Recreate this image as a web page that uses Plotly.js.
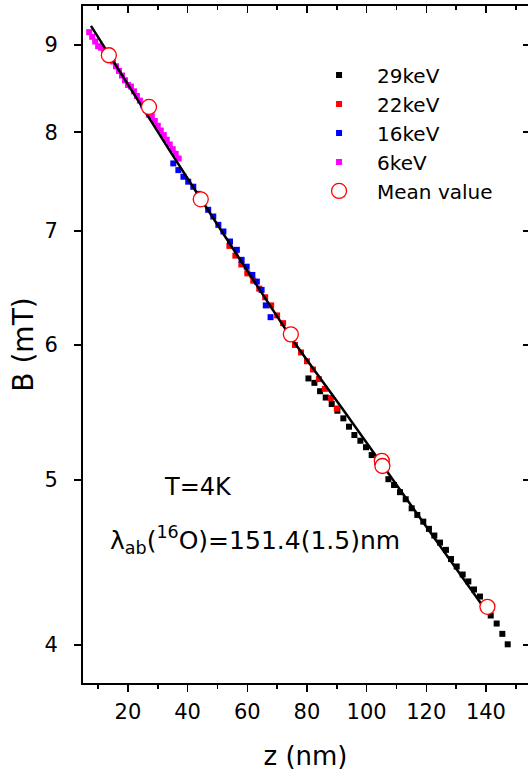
<!DOCTYPE html>
<html>
<head>
<meta charset="utf-8">
<script src="https://cdn.plot.ly/plotly-3.0.1.min.js"></script>
<style>
html,body{margin:0;padding:0;overflow:hidden;background:#fff;}
#chart{width:530px;height:776px;}
</style>
</head>
<body>
<div id="chart"></div>
<script>
// 29 keV
var z29 = [80.5,82.5,84.4,86.3,88.3,90.2,92.2,94.1,95.9,97.9,99.8,101.7,103.6,105.5,107.3,109.2,111.2,113.1,115.1,117.0,119.0,120.9,122.7,124.6,126.6,128.3,130.2,132.2,134.1,136.0,138.0,139.8,141.6,143.6,145.5,147.3];
var B29 = [5.735,5.701,5.637,5.589,5.54,5.49,5.434,5.373,5.313,5.272,5.226,5.171,5.12,5.07,5.005,4.966,4.918,4.871,4.812,4.769,4.726,4.680,4.638,4.594,4.549,4.493,4.448,4.400,4.359,4.312,4.271,4.215,4.163,4.118,4.061,4.004];
// 22 keV
var z22 = [54,56,58,60,62,64,66,68,70,72,74,76,78,80,82,84,86,88,90];
var B22 = [6.86,6.77,6.69,6.61,6.545,6.475,6.40,6.33,6.245,6.18,6.10,6.00,5.94,5.87,5.805,5.73,5.655,5.585,5.507];
// 16 keV
var z16 = [35.2,36.9,38.6,40.2,41.9,43.6,45.2,46.9,48.6,50.3,52.0,54.2,56.5,58.1,59.8,61.7,63.2,64.8,66.2,67.8];
var B16 = [7.669,7.600,7.532,7.482,7.431,7.36,7.28,7.203,7.138,7.058,6.995,6.901,6.824,6.732,6.670,6.596,6.537,6.464,6.33,6.23];
// 6 keV
var z6 = [7,8,9,10,11,12,13,14,15,16,17,18,19,20,21,22,23,24,25,26,27,28,29,30,31,32,33,34,35,36,37];
var B6 = [9.158,9.100,9.043,8.986,8.966,8.909,8.853,8.833,8.801,8.745,8.690,8.636,8.581,8.527,8.508,8.454,8.401,8.348,8.295,8.243,8.191,8.172,8.121,8.069,8.018,7.968,7.918,7.868,7.818,7.769,7.720];
// mean values
var zMean = [13.6,27.05,44.4,74.6,105.1,105.3,140.5];
var BMean = [8.876,8.277,7.306,6.087,5.131,5.095,4.212];
// fit curve
var zFit = [7.6,34.1,54.8,76.0,92.2,138.7];
var BFit = [9.235,7.798,6.852,6.014,5.495,4.222];

var xRange = [4.93, 154.1];
var yRange = [Math.log10(3.80), Math.log10(9.487)];
var yTicks = [4,5,6,7,8,9];
var FONT = 'DejaVu Sans, Arial, sans-serif';

var sq = function(c){ return {symbol:'square', size:6, color:c, line:{width:0}}; };

var traces = [
  {x:z29, y:B29, name:'29keV', mode:'markers', type:'scatter', marker:sq('#000000'), legendgroup:'a', legendrank:1},
  {x:z22, y:B22, name:'22keV', mode:'markers', type:'scatter', marker:sq('#ff0000'), legendgroup:'b', legendrank:2},
  {x:z16, y:B16, name:'16keV', mode:'markers', type:'scatter', marker:sq('#0000ff'), legendgroup:'c', legendrank:3},
  {x:z6, y:B6, name:'6keV', mode:'markers', type:'scatter', marker:sq('#ff00ff'), legendgroup:'d', legendrank:4},
  {x:zFit, y:BFit, name:'fit', mode:'lines', type:'scatter', line:{color:'#000', width:2.5, shape:'spline', smoothing:0.6}, showlegend:false},
  {x:zMean, y:BMean, name:'Mean value', mode:'markers', type:'scatter', marker:{symbol:'circle', size:15, color:'#ffffff', line:{color:'#ff0000', width:1.3}}, legendgroup:'e', legendrank:5},
  {x:[], y:[], xaxis:'x2', yaxis:'y2', showlegend:false, type:'scatter', mode:'markers', hoverinfo:'skip'}
];

var layout = {
  width:530, height:776,
  margin:{l:83, r:2, t:6, b:93},
  paper_bgcolor:'#fff', plot_bgcolor:'#fff',
  font:{family:FONT, color:'#000'},
  showlegend:true,
  legend:{x:0.49, y:0.927, xanchor:'left', yanchor:'top', bgcolor:'rgba(0,0,0,0)', font:{family:FONT, size:20, color:'#000'}, itemwidth:66, traceorder:'grouped', tracegroupgap:0},
  xaxis:{range:xRange, tick0:0, dtick:20, ticks:'outside', ticklen:7, tickwidth:1.5, tickcolor:'#000',
    minor:{tick0:0, dtick:10, ticks:'outside', ticklen:4, tickwidth:1.5, tickcolor:'#000'},
    showline:true, linewidth:2, linecolor:'#000', showgrid:false, zeroline:false,
    tickfont:{family:FONT, size:21}, ticklabelstandoff:2,
    title:{text:'z (nm)', font:{family:FONT, size:26}, standoff:24}, automargin:false},
  yaxis:{type:'log', range:yRange, tickvals:yTicks, ticktext:yTicks.map(String), ticks:'outside', ticklen:7, tickwidth:1.5, tickcolor:'#000',
    showline:true, linewidth:2, linecolor:'#000', showgrid:false, zeroline:false,
    tickfont:{family:FONT, size:21}, ticklabelstandoff:12,
    title:{text:'B (mT)', font:{family:FONT, size:28}, standoff:3}, automargin:false},
  xaxis2:{overlaying:'x', side:'top', anchor:'y2', range:xRange, tick0:0, dtick:20, ticks:'inside', ticklen:7, tickwidth:1.5, tickcolor:'#000',
    minor:{tick0:0, dtick:10, ticks:'inside', ticklen:4, tickwidth:1.5, tickcolor:'#000'},
    showticklabels:false, showline:true, linewidth:2, linecolor:'#000', showgrid:false, zeroline:false},
  yaxis2:{overlaying:'y', side:'right', anchor:'x2', type:'log', range:yRange, tickvals:yTicks, ticks:'inside', ticklen:5, tickwidth:1.5, tickcolor:'#000',
    showticklabels:false, showline:true, linewidth:2, linecolor:'#000', showgrid:false, zeroline:false},
  annotations:[
    {xref:'paper', yref:'paper', x:0.178, y:0.2895, xanchor:'left', yanchor:'middle', showarrow:false, text:'T=4K', font:{family:FONT, size:24, color:'#000'}},
    {xref:'paper', yref:'paper', x:0.056, y:0.211, xanchor:'left', yanchor:'middle', showarrow:false, text:'λ<sub>ab</sub>(<sup>16</sup>O)=151.4(1.5)nm', font:{family:FONT, size:25, color:'#000'}}
  ]
};

Plotly.newPlot('chart', traces, layout, {displayModeBar:false, staticPlot:true});
</script>
</body>
</html>
